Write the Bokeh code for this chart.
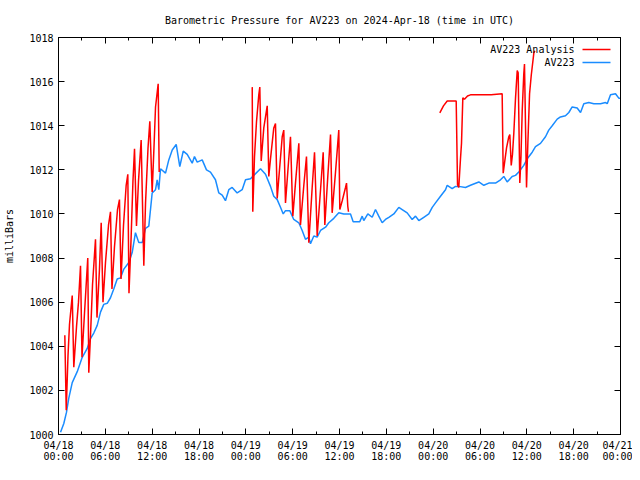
import math
from bokeh.plotting import figure
from bokeh.models import (LinearAxis, FixedTicker, Range1d, Label, BoxAnnotation)
from bokeh.embed import file_html
from bokeh.resources import INLINE

# ---------------- data (hours since 2024-04-18 00:00 UTC, millibars) -------------
obs_hours = [0.26, 0.68, 1.02, 1.32, 1.76, 2.40, 3.04, 3.68, 4.10, 4.52, 4.96, 5.38, 5.80,
             6.24, 6.66, 7.08, 7.52, 7.94, 8.37, 9.01, 9.44, 9.86, 10.29, 10.72, 11.15,
             11.57, 12.00, 12.43, 12.64, 12.85, 13.07, 13.71, 14.13, 14.57, 15.08, 15.54,
             15.98, 16.49, 17.13, 17.42, 17.77, 18.41, 18.96, 19.47, 20.11, 20.54, 20.97,
             21.39, 21.82, 22.25, 22.89, 23.53, 23.96, 24.60, 25.02, 25.88, 26.52, 27.16,
             27.58, 28.02, 28.44, 28.79, 29.08, 29.63, 30.14, 30.79, 31.22, 31.64, 32.07,
             32.28, 32.71, 33.14, 33.57, 34.21, 34.63, 35.27, 35.91, 36.55, 37.19, 37.41,
             37.75, 38.60, 38.91, 39.11, 39.63, 40.19, 40.61, 41.03, 41.47, 41.89, 42.32,
             42.96, 43.60, 44.03, 44.67, 45.31, 45.74, 46.16, 46.80, 47.44, 47.88, 48.30,
             48.94, 49.58, 49.80, 50.44, 50.86, 51.28, 52.14, 52.78, 53.85, 54.49, 55.13,
             55.99, 56.63, 57.05, 57.48, 58.12, 58.55, 58.97, 59.61, 60.05, 60.69, 61.11,
             61.75, 62.39, 62.81, 63.25, 63.89, 64.31, 64.95, 65.38, 65.81, 66.45, 66.88,
             67.30, 67.94, 68.58, 69.44, 70.08, 70.30, 70.72, 71.36, 71.78, 72.00]
obs_pressure = [1000.1, 1000.5, 1001.0, 1001.65, 1002.35, 1002.85, 1003.5, 1003.9, 1004.35,
                1004.6, 1004.95, 1005.55, 1005.9, 1005.95, 1006.2, 1006.6, 1007.05, 1007.1,
                1007.5, 1007.8, 1008.25, 1009.15, 1008.7, 1008.7, 1009.35, 1009.45, 1010.95,
                1011.1, 1011.55, 1011.1, 1012.05, 1011.85, 1012.45, 1012.9, 1013.15, 1012.15,
                1012.85, 1012.7, 1012.3, 1012.6, 1012.35, 1012.45, 1012.0, 1011.9, 1011.55,
                1010.95, 1010.85, 1010.6, 1011.1, 1011.2, 1010.95, 1011.1, 1011.55, 1011.6,
                1011.75, 1012.05, 1011.8, 1011.25, 1010.8, 1010.65, 1010.3, 1010.0, 1010.15,
                1010.15, 1009.75, 1009.6, 1009.25, 1008.85, 1008.95, 1008.65, 1009.0, 1008.95,
                1009.25, 1009.4, 1009.6, 1009.8, 1010.05, 1010.0, 1010.0, 1010.0, 1009.65,
                1009.65, 1009.9, 1009.7, 1010.0, 1009.85, 1010.2, 1009.9, 1009.6, 1009.75,
                1009.85, 1010.0, 1010.3, 1010.2, 1010.05, 1009.75, 1009.9, 1009.7, 1009.85,
                1010.0, 1010.3, 1010.5, 1010.8, 1011.1, 1011.3, 1011.15, 1011.25, 1011.25,
                1011.2, 1011.3, 1011.45, 1011.3, 1011.4, 1011.4, 1011.55, 1011.7, 1011.45,
                1011.7, 1011.75, 1011.9, 1012.2, 1012.5, 1012.8, 1013.05, 1013.2, 1013.5,
                1013.8, 1014.0, 1014.3, 1014.4, 1014.45, 1014.6, 1014.85, 1014.8, 1014.6,
                1015.0, 1015.05, 1015.0, 1015.0, 1015.05, 1015.0, 1015.4, 1015.45, 1015.25,
                1015.25]

ana1_hours = [0.81, 0.99, 1.22, 1.41, 1.76, 1.96, 2.31, 2.56, 2.82, 3.01, 3.33, 3.75, 3.88,
              4.10, 4.36, 4.74, 4.93, 5.25, 5.47, 5.70, 6.02, 6.41, 6.66, 6.85, 7.17, 7.56,
              7.81, 8.01, 8.33, 8.67, 8.88, 9.03, 9.29, 9.54, 9.74, 9.99, 10.25, 10.59,
              10.93, 11.15, 11.47, 11.70, 12.00, 12.23, 12.43, 12.77, 12.90]
ana1_pressure = [1004.5, 1001.1, 1003.6, 1005.0, 1006.3, 1003.05, 1004.9, 1006.0, 1007.65,
                 1003.5, 1005.5, 1008.0, 1002.8, 1004.5, 1006.8, 1008.85, 1005.3, 1007.5,
                 1009.6, 1006.0, 1007.8, 1009.5, 1010.1, 1006.6, 1008.5, 1010.2, 1010.65,
                 1007.05, 1009.5, 1011.3, 1011.8, 1006.4, 1008.8, 1011.5, 1012.95, 1009.45,
                 1011.5, 1013.35, 1007.65, 1010.5, 1013.0, 1014.2, 1011.0, 1013.0, 1014.85,
                 1015.9, 1011.9]

ana2_hours = [24.82, 24.89, 25.11, 25.37, 25.66, 25.79, 25.97, 26.30, 26.74, 26.94, 27.16,
              27.58, 27.80, 28.02, 28.22, 28.66, 28.86, 29.08, 29.50, 29.72, 30.02, 30.36,
              30.79, 31.00, 31.43, 31.77, 32.07, 32.50, 32.80, 33.14, 33.57, 33.91, 34.12,
              34.50, 34.85, 35.06, 35.49, 35.91, 36.04, 36.35, 36.77, 36.90, 37.06, 37.15]
ana2_pressure = [1015.75, 1010.1, 1012.6, 1014.2, 1015.4, 1015.75, 1012.4, 1013.9, 1014.9,
                 1011.7, 1012.5, 1013.9, 1014.1, 1010.7, 1011.6, 1013.5, 1013.8, 1010.5,
                 1012.5, 1013.5, 1009.9, 1011.4, 1013.2, 1009.5, 1011.3, 1012.6, 1008.7,
                 1011.2, 1012.8, 1009.0, 1011.1, 1012.8, 1009.5, 1011.7, 1013.6, 1010.05,
                 1011.9, 1013.8, 1010.2, 1010.6, 1011.2, 1011.4, 1010.35, 1010.1]

ana3_hours = [48.85, 49.32, 49.80, 50.95, 51.12, 51.28, 51.50, 51.63, 51.80, 52.01, 52.40,
              52.78, 55.43, 56.84, 56.97, 57.14, 57.40, 57.69, 57.82, 58.00, 58.16, 58.33,
              58.55, 58.77, 58.89, 59.10, 59.25, 59.41, 59.61, 59.70, 59.96, 60.13, 60.35,
              60.57, 60.90, 61.03]
ana3_pressure = [1014.58, 1014.9, 1015.12, 1015.12, 1011.33, 1011.2, 1012.5, 1013.2, 1015.27,
                 1015.2, 1015.35, 1015.4, 1015.4, 1015.45, 1011.85, 1012.3, 1013.0, 1013.5,
                 1013.6, 1012.2, 1012.7, 1013.65, 1015.25, 1016.5, 1016.4, 1011.4, 1012.6,
                 1014.7, 1016.35, 1016.8, 1011.2, 1013.2, 1015.45, 1016.3, 1017.3, 1017.4]

x_tick_hours = [0, 6, 12, 18, 24, 30, 36, 42, 48, 54, 60, 66, 72]
x_minor_hours = [3, 9, 15, 21, 27, 33, 39, 45, 51, 57, 63, 69]
x_tick_labels = ["04/18\n00:00", "04/18\n06:00", "04/18\n12:00", "04/18\n18:00",
                 "04/19\n00:00", "04/19\n06:00", "04/19\n12:00", "04/19\n18:00",
                 "04/20\n00:00", "04/20\n06:00", "04/20\n12:00", "04/20\n18:00",
                 "04/21\n00:00"]
y_ticks = [1000, 1002, 1004, 1006, 1008, 1010, 1012, 1014, 1016, 1018]

title_text = "Barometric Pressure for AV223 on 2024-Apr-18 (time in UTC)"
series_names = ["AV223 Analysis", "AV223"]

# ---------------- styling ------------------------------------------------------------
FONT = "DejaVu Sans Mono"
FS = "10px"
RED = "#ff0000"
BLUE = "#1a8cff"

p = figure(width=632, height=464, output_backend="svg", toolbar_location=None,
           x_range=Range1d(0, 72), y_range=Range1d(1000, 1018),
           min_border_left=58, min_border_right=12, min_border_top=36, min_border_bottom=28,
           x_axis_location=None, y_axis_location=None)

p.title.text = title_text
p.title.text_font = FONT
p.title.text_font_size = FS
p.title.text_font_style = "normal"
p.title.text_color = "black"
p.title.align = "center"
p.title.offset = 0
p.title.standoff = 24

p.xgrid.visible = False
p.ygrid.visible = False
p.outline_line_color = "black"
p.outline_line_width = 1
p.background_fill_color = "white"
p.border_fill_color = "white"

xt = FixedTicker(ticks=x_tick_hours, minor_ticks=x_minor_hours)
yt = FixedTicker(ticks=y_ticks, minor_ticks=[])


def style_axis(ax, labels=True):
    ax.axis_line_color = "black"
    ax.major_tick_in = 6
    ax.major_tick_out = 0
    ax.minor_tick_in = 3
    ax.minor_tick_out = 0
    ax.major_tick_line_color = "black"
    ax.minor_tick_line_color = "black"
    ax.major_label_text_font = FONT
    ax.major_label_text_font_size = FS
    ax.major_label_text_color = "black" if labels else None
    if not labels:
        ax.major_label_standoff = 0


xb = LinearAxis(ticker=xt)
style_axis(xb)
xb.major_label_overrides = {h: lab for h, lab in zip(x_tick_hours, x_tick_labels)}
xb.major_label_standoff = 5
xb.major_label_text_line_height = 1.0
p.add_layout(xb, "below")

xa = LinearAxis(ticker=xt)
style_axis(xa, labels=False)
p.add_layout(xa, "above")

yl = LinearAxis(ticker=yt, axis_label="milliBars")
style_axis(yl)
yl.major_label_standoff = 5
yl.axis_label_text_font = FONT
yl.axis_label_text_font_size = FS
yl.axis_label_text_font_style = "normal"
yl.axis_label_text_color = "black"
yl.axis_label_standoff = 11
p.add_layout(yl, "left")

yr = LinearAxis(ticker=yt)
style_axis(yr, labels=False)
p.add_layout(yr, "right")

# analysis series: three separate runs joined with gaps
nan = float("nan")
ana_x = ana1_hours + [nan] + ana2_hours + [nan] + ana3_hours
ana_y = ana1_pressure + [nan] + ana2_pressure + [nan] + ana3_pressure

p.line(obs_hours, obs_pressure, line_color=BLUE, line_width=1.5)
p.line(ana_x, ana_y, line_color=RED, line_width=1.5)

# legend in gnuplot style: label then line sample (screen units within frame)
for i, (name, col) in enumerate(zip(series_names, [RED, BLUE])):
    ys = 385 - i * 13
    p.add_layout(Label(x=516, y=ys, x_units="screen", y_units="screen", text=name,
                       text_font=FONT, text_font_size=FS, text_align="right",
                       text_baseline="middle", text_color="black"))
    p.add_layout(BoxAnnotation(left=524, right=552, bottom=ys - 0.75, top=ys + 0.75,
                               left_units="screen", right_units="screen",
                               bottom_units="screen", top_units="screen",
                               fill_color=col, fill_alpha=1.0, line_color=None))

open("out.html", "w").write(file_html(p, INLINE))
